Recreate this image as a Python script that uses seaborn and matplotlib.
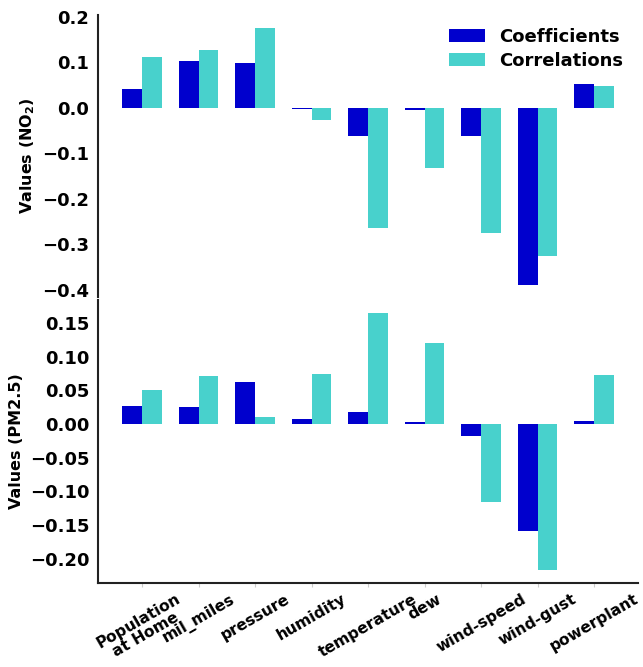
import pandas as pd
import seaborn as sns
import matplotlib.pyplot as plt
from matplotlib.ticker import MultipleLocator

features = ['Population\nat Home', 'mil_miles', 'pressure', 'humidity',
            'temperature', 'dew', 'wind-speed', 'wind-gust', 'powerplant']
no2_coef = [0.042, 0.102, 0.098, -0.003, -0.063, -0.004, -0.063, -0.388, 0.052]
no2_corr = [0.111, 0.127, 0.176, -0.028, -0.264, -0.133, -0.274, -0.325, 0.048]
pm_coef = [0.027, 0.025, 0.062, 0.007, 0.018, 0.003, -0.017, -0.159, 0.005]
pm_corr = [0.050, 0.071, 0.010, 0.074, 0.165, 0.120, -0.116, -0.217, 0.073]
kinds = ['Coefficients', 'Correlations']
palette = ['#0000CD', '#48D1CC']

sns.set_style('white')
plt.rcParams['font.family'] = ['DejaVu Sans']
plt.rcParams['font.weight'] = 'bold'
plt.rcParams['axes.labelweight'] = 'bold'
plt.rcParams['text.color'] = 'black'
plt.rcParams['axes.labelcolor'] = 'black'
plt.rcParams['xtick.color'] = 'black'
plt.rcParams['ytick.color'] = 'black'


def long_df(coef, corr):
    n = len(features)
    return pd.DataFrame({
        'feature': features * 2,
        'value': coef + corr,
        'kind': [kinds[0]] * n + [kinds[1]] * n,
    })


fig, (ax1, ax2) = plt.subplots(2, 1, figsize=(6.43, 6.67), dpi=100)
fig.subplots_adjust(left=0.152, right=0.993, top=0.978, bottom=0.126, hspace=0.01)

sns.barplot(long_df(no2_coef, no2_corr), x='feature', y='value', hue='kind',
            palette=palette, width=0.7, saturation=1, errorbar=None,
            linewidth=0, ax=ax1)
sns.barplot(long_df(pm_coef, pm_corr), x='feature', y='value', hue='kind',
            palette=palette, width=0.7, saturation=1, errorbar=None,
            linewidth=0, legend=False, ax=ax2)

for ax in (ax1, ax2):
    ax.set_xlim(-0.785, 8.785)
    ax.set_xlabel('')
    ax.tick_params(axis='y', left=False, length=0, pad=6, labelsize=13)
    for s in ax.spines.values():
        s.set_linewidth(1.5)
        s.set_color('#222222')

ax2.yaxis.set_major_locator(MultipleLocator(0.05))

ax1.set_ylabel('Values (NO$_2$)', fontsize=11.5)
ax2.set_ylabel('Values (PM2.5)', fontsize=11.5)

ax1.tick_params(axis='x', bottom=False, labelbottom=False)
ax2.tick_params(axis='x', bottom=True, length=3, color='#cccccc', pad=3,
                labelsize=11.2, labelrotation=30)
for lbl in ax2.get_xticklabels():
    lbl.set_linespacing(1.0)

sns.despine(ax=ax1, bottom=True)
sns.despine(ax=ax2)

handles, labels = ax1.get_legend_handles_labels()
ax1.legend(handles, labels, loc='upper right', frameon=False, fontsize=13,
           labelspacing=0.3, bbox_to_anchor=(1.002, 1.01))

plt.savefig('out.png', dpi=100)
